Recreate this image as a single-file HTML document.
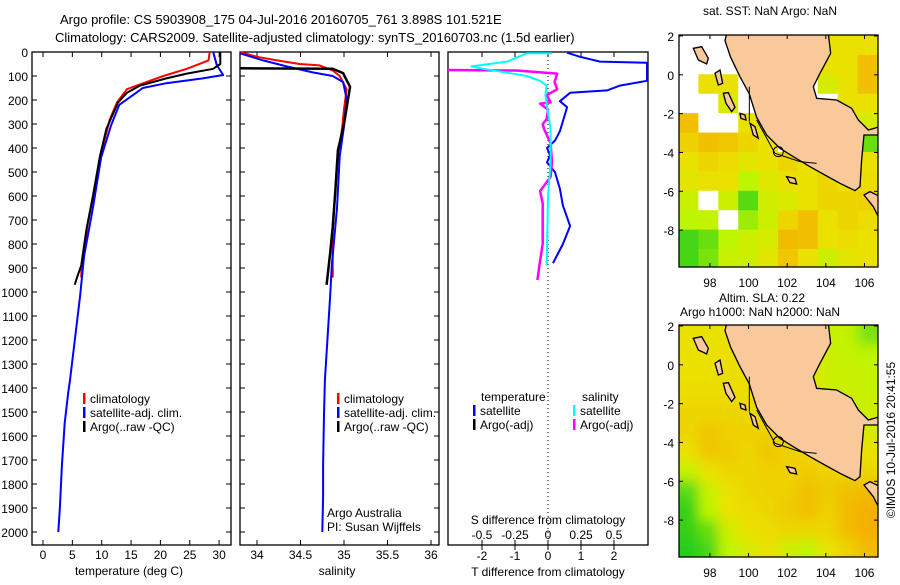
<!DOCTYPE html>
<html><head><meta charset="utf-8"><style>
body{margin:0;background:#fff;}
svg text{font-family:"Liberation Sans",sans-serif;font-size:12px;fill:#000;}
</style></head><body>
<svg id="fig" width="900" height="580" xmlns="http://www.w3.org/2000/svg">
<rect width="900" height="580" fill="#fff"/>
<text x="60" y="24" style="font-size:13px">Argo profile: CS 5903908_175 04-Jul-2016 20160705_761 3.898S 101.521E</text>
<text x="55" y="42" style="font-size:13px">Climatology: CARS2009. Satellite-adjusted climatology: synTS_20160703.nc (1.5d earlier)</text>
<g id="p1"></g>
<g id="p2"></g>
<g id="p3"></g>
<g id="m1"></g>
<g id="m2"></g>
<text x="770" y="15" text-anchor="middle">sat. SST: NaN Argo: NaN</text>
<text x="762" y="302" text-anchor="middle">Altim. SLA: 0.22</text>
<text x="760" y="316" text-anchor="middle">Argo h1000: NaN h2000: NaN</text>
<text transform="translate(895,440) rotate(-90)" text-anchor="middle">©IMOS 10-Jul-2016 20:41:55</text>
</svg>
<script>
// ---- data ----
const depthTicks=[0,100,200,300,400,500,600,700,800,900,1000,1100,1200,1300,1400,1500,1600,1700,1800,1900,2000];
const tempTicks=[0,5,10,15,20,25,30];
const salTicks=[34,34.5,35,35.5,36];
const tdiffTicks=[-2,-1,0,1,2];
const sdiffTicks=[-0.5,-0.25,0,0.25,0.5];
const sdiffLabels=['-0.5','-0.25','0','0.25','0.5'];
const tClimD=[0,35,70,100,135,155,210,280,390,530,720,890,940];
const tClimV=[28.4,28.2,24.5,20.5,16.5,14.3,12.6,11.4,10.2,9.1,7.6,6.6,6.5];
const tSatD=[0,55,96,110,130,150,180,220,305,440,650,850,1020,1367,1420,1546,1730,1890,2000];
const tSatV=[29,29.6,30.7,27.2,21,17,15.3,13,11.6,9.9,8.5,7.0,6.3,4.6,4.3,3.7,3.2,2.9,2.6];
const tArgoD=[0,50,70,90,110,140,170,210,320,435,600,740,890,940,970];
const tArgoV=[30.2,30.2,29,24.5,21,16.5,14.3,12.8,10.8,9.7,8.5,7.4,6.5,5.8,5.4];
const sClimD=[0,20,35,50,56,77,100,155,240,310,470,750,940];
const sClimV=[33.8,34.0,34.23,34.49,34.72,34.87,34.95,35.03,35.0,34.98,34.92,34.87,34.87];
const sSatD=[5,35,60,85,100,125,195,310,435,650,890,1020,1367,1510,1720,1850,2000];
const sSatV=[33.8,34.07,34.34,34.64,34.87,34.99,35.03,35.0,34.95,34.92,34.86,34.84,34.78,34.77,34.76,34.76,34.75];
const sArgoD=[68,70,88,110,145,190,300,410,580,730,840,970];
const sArgoV=[33.8,34.87,34.99,35.02,35.07,35.05,35.0,34.93,34.9,34.87,34.84,34.8];
const dTSatD=[3,20,40,45,120,140,160,170,205,230,330,370,400,430,460,500,570,640,725,800,880];
const dTSatV=[0.58,0.97,1.58,3.0,3.0,2.18,1.79,0.67,0.36,0.58,0.36,0.21,-0.03,0.06,-0.03,0.21,0.36,0.45,0.67,0.45,0.15];
const dSSatD=[5,5,40,60,70,100,120,140,180,320,460,600,890];
const dSSatV=[0.03,-0.16,-0.31,-0.58,-0.49,-0.16,-0.06,-0.01,-0.02,0.02,0.02,0,-0.01];
const dSArgoD=[75,77,90,125,155,180,210,215,240,280,300,320,380,460,520,580,630,800,870,950];
const dSArgoV=[-0.76,-0.24,0.07,0.05,0.07,-0.01,0.02,-0.06,0,-0.01,-0.04,-0.03,0.02,0.03,0.02,-0.06,-0.04,-0.04,-0.06,-0.08];
const lonTicks=[98,100,102,104,106];
const latTicks=[2,0,-2,-4,-6,-8];
const sstGrid=[
[0,0,0,0,0,0,0,3,3,3],[0,0,0,0,0,0,0,3,3,3.6],[0,3,3,0,0,3,0,2.5,3,3.6],[0,0,2.6,0,3,3,0,0,3,3],
[3.6,0,0,3,3,3,0,0,3,2.5],[3.3,3.6,3.5,3.2,3,0,0,0,2.5,1.5],[3,3.2,3.1,2.8,3,3.2,3,3,3.2,3],[2.8,3,3,2,2.7,3,3,3.2,3,3.1],
[2.2,0,2.3,1.4,2.4,2.6,3,3.2,3.2,3.3],[2,2.1,0,1.8,2.3,3.2,3.6,3,3.2,3.1],[1.3,1.5,2,2.3,2.5,3.7,3.6,3,3.1,3],[1.3,1.6,2.2,2.3,2.8,3.5,3,2.3,2.8,3]];
const slaGrid=[
[3,3,3,3,3,3,2.4,2.2,2.1,1.6],[3,3,3,3,3,3,3,2.3,2.1,2],[3,3,3.1,3,3,3,3,2.3,2.2,2.1],[3.1,3.1,3.1,3.1,3,3,3,2.3,2.3,2.2],
[3.2,3.2,3.2,3.2,3.2,3.1,3,3,2.4,2.3],[3.2,3.5,3.3,3.3,3.3,3.2,3.1,3,2.6,2.5],[3,3.5,3.4,3.2,3.5,3.3,3.2,3.1,3,3],[2.2,3,3.2,3.2,3.3,3.3,3.4,3.3,3.2,3.2],
[1.4,2.2,3,3.2,3.3,3.3,3.6,3.4,3.6,3.7],[1.2,2,3,3.1,3.2,3.4,3.6,3.3,3.7,3.9],[1.2,1.5,2.4,3,3.1,3.2,3.2,3.2,3.7,3.9],[1.1,1.3,2,2.5,3,2.4,2,2.9,3.3,3.7]];

// ---- helpers ----
const NS='http://www.w3.org/2000/svg';
function mk(parent,tag,attrs,txt){const e=document.createElementNS(NS,tag);for(const k in attrs)e.setAttribute(k,attrs[k]);if(txt!==undefined)e.textContent=txt;parent.appendChild(e);return e;}
const yD=d=>52+d*0.24;
const xT=t=>43+t*5.87;
const xS=s=>257+(s-34)*87;
const xDT=t=>548+t*33;
const xDS=s=>548+s*132;
function line(g,xf,ds,vs,color,w,name){
  const pts=ds.map((d,i)=>xf(vs[i]).toFixed(1)+','+yD(d).toFixed(1)).join(' ');
  const p=mk(g,'polyline',{points:pts,fill:'none',stroke:color,'stroke-width':w,'stroke-linejoin':'round'});
  
  
}
function frame(g,x0,x1,yTicksLabels){
  const r=mk(g,'rect',{x:x0,y:52,width:x1-x0,height:493,fill:'none',stroke:'#000','stroke-width':1.3});
  
  
  depthTicks.forEach(d=>{const y=yD(d);
    mk(g,'line',{x1:x0,x2:x0+5,y1:y,y2:y,stroke:'#000'});mk(g,'line',{x1:x1-5,x2:x1,y1:y,y2:y,stroke:'#000'});
    if(yTicksLabels){const t=mk(g,'text',{x:x0-4,y:y+5,'text-anchor':'end'},d);
      
      }
  });
}
function xticks(g,vals,labels,xf,yb,ylab,top){
  vals.forEach((v,i)=>{const x=xf(v);
    mk(g,'line',{x1:x,x2:x,y1:yb-5,y2:yb,stroke:'#000'});
    if(top)mk(g,'line',{x1:x,x2:x,y1:52,y2:57,stroke:'#000'});
    const t=mk(g,'text',{x:x,y:ylab,'text-anchor':'middle'},labels[i]);
    
    
  });
}
function legend(g,x,y,color,label){
  mk(g,'rect',{x:x,y:y-10,width:2.5,height:11,fill:color});
  const t=mk(g,'text',{x:x+7,y:y},label);
  
  
}
// ---- panel 1 ----
const p1=document.getElementById('p1');
frame(p1,32,231,true);
xticks(p1,tempTicks,tempTicks,xT,545,559,true);
line(p1,xT,tClimD,tClimV,'#f00',2,'temperature-climatology-line');
line(p1,xT,tSatD,tSatV,'#00f',2,'temperature-satellite-line');
line(p1,xT,tArgoD,tArgoV,'#000',2,'temperature-argo-line');
legend(p1,83,403,'#f00','climatology');legend(p1,83,417,'#00f','satellite-adj. clim.');legend(p1,83,431,'#000','Argo(..raw -QC)');
mk(p1,'text',{x:129,y:575,'text-anchor':'middle'},'temperature (deg C)');
// ---- panel 2 ----
const p2=document.getElementById('p2');
frame(p2,240,439,false);
xticks(p2,salTicks,salTicks,xS,545,559,true);
line(p2,xS,sClimD,sClimV,'#f00',2,'salinity-climatology-line');
line(p2,xS,sSatD,sSatV,'#00f',2,'salinity-satellite-line');
line(p2,xS,sArgoD,sArgoV,'#000',2.5,'salinity-argo-line');
legend(p2,337,403,'#f00','climatology');legend(p2,337,417,'#00f','satellite-adj. clim.');legend(p2,337,431,'#000','Argo(..raw -QC)');
mk(p2,'text',{x:327,y:517},'Argo Australia');mk(p2,'text',{x:327,y:531},'PI: Susan Wijffels');
mk(p2,'text',{x:337,y:575,'text-anchor':'middle'},'salinity');
// ---- panel 3 ----
const p3=document.getElementById('p3');
mk(p3,'rect',{x:448,y:52,width:200,height:493,fill:'none',stroke:'#000','stroke-width':1.3});
mk(p3,'line',{x1:xDT(0),x2:xDT(0),y1:52,y2:545,stroke:'#000','stroke-dasharray':'1,3'});
tdiffTicks.forEach(v=>{const x=xDT(v);mk(p3,'line',{x1:x,x2:x,y1:52,y2:57,stroke:'#000'});mk(p3,'line',{x1:x,x2:x,y1:545,y2:550,stroke:'#000'});
  const t=mk(p3,'text',{x:x,y:560,'text-anchor':'middle'},v);
  
  });
sdiffTicks.forEach((v,i)=>{const x=xDS(v);mk(p3,'line',{x1:x,x2:x,y1:540,y2:545,stroke:'#000'});
  const t=mk(p3,'text',{x:x,y:539,'text-anchor':'middle'},sdiffLabels[i]);
  
  });
const cp3=mk(p3,'clipPath',{id:'c3'});mk(cp3,'rect',{x:448,y:52,width:200,height:493});
const g3=mk(p3,'g',{'clip-path':'url(#c3)'});
line(g3,xDT,dTSatD,dTSatV,'#00f',2,'tdiff-satellite-line');
line(g3,xDS,dSArgoD,dSArgoV,'#f0f',2.5,'sdiff-argo-line');
line(g3,xDS,dSSatD,dSSatV,'#0ff',2,'sdiff-satellite-line');
mk(p3,'text',{x:481,y:401},'temperature');mk(p3,'text',{x:582,y:401},'salinity');
legend(p3,473,415,'#00f','satellite');legend(p3,473,429,'#000','Argo(-adj)');
legend(p3,573,415,'#0ff','satellite');legend(p3,573,429,'#f0f','Argo(-adj)');
mk(p3,'text',{x:548,y:524,'text-anchor':'middle'},'S difference from climatology');
mk(p3,'text',{x:548,y:576,'text-anchor':'middle'},'T difference from climatology');
// ---- maps ----
const colorStops=[[1,[20,200,30]],[2,[190,245,0]],[3,[235,225,0]],[4,[245,170,0]]];
function col(v){if(!v)return '#fff';v=Math.max(1,Math.min(4,v));let i=Math.min(2,Math.floor(v-1));const a=colorStops[i],b=colorStops[i+1],f=v-a[0];
  return 'rgb('+a[1].map((c,k)=>Math.round(c+(b[1][k]-c)*f)).join(',')+')';}
const LON0=96.4,LON1=106.7,LAT0=2.05,LAT1=-9.9;
function mapPanel(id,top,grid,ox,oy,xlabY,blur){
  const g=document.getElementById(id);
  const x0=679,x1=878,y1=top+232;
  const lx=l=>x0+(l-LON0)/(LON1-LON0)*(x1-x0);
  const ly=l=>top+(LAT0-l)/(LAT0-LAT1)*(y1-top);
  const cid='mc'+id;const cp=mk(g,'clipPath',{id:cid});mk(cp,'rect',{x:x0,y:top,width:x1-x0,height:y1-top});
  const clipG=mk(g,'g',{'clip-path':'url(#'+cid+')'});
  const cells=mk(clipG,'g',{});
  if(blur){const f=mk(g,'filter',{id:'bl'+id,x:'-10%',y:'-10%',width:'120%',height:'120%'});mk(f,'feGaussianBlur',{stdDeviation:6});cells.setAttribute('filter','url(#bl'+id+')');}
  const cw=(x1-x0)/10;
  grid.forEach((row,r)=>row.forEach((v,c)=>{
    const la=2-r,lo=LON0+c*(LON1-LON0)/10;
    let x=lx(lo)-0.5,y=ly(la)-0.5,w=cw+1,h=ly(la-1)-ly(la)+1;
    if(blur){ if(c===0){x-=20;w+=20;} if(c===9){w+=20;} if(r===0){y-=20;h+=20;} if(r===grid.length-1){h+=20;} }
    const e=mk(cells,'rect',{x:x,y:y,width:w,height:h,fill:col(v)});
    
    
  }));
  const land=mk(clipG,'g',{transform:'translate('+ox+','+oy+') scale(0.3333)'});
  
  
  const st={fill:'#f9c89b',stroke:'#000','stroke-width':4};
  const P=d=>mk(land,'path',Object.assign({d:d},st));
  P('M200,40 L505,40 L512,100 L480,160 L460,200 L470,235 L530,240 L575,265 L595,300 L625,330 L660,320 L660,345 L612,345 L605,420 L600,500 L585,512 L560,500 L540,490 L500,468 L450,440 L400,410 L360,385 L320,345 L290,292 L268,222 L240,170 L212,112 L195,62 Z');
  P('M612,525 L640,560 L660,600 L660,530 L630,515 Z');
  P('M100,85 L125,80 L145,115 L140,132 L115,120 Z');
  P('M190,220 L205,218 L225,262 L215,275 L198,250 Z');
  P('M165,160 L180,150 L188,190 L175,195 Z');
  P('M240,280 L255,285 L258,300 L243,295 Z');
  P('M270,310 L285,320 L295,355 L280,345 Z');
  P('M380,470 L405,475 L410,492 L390,488 Z');
  mk(land,'path',{d:'M268,200 L268,305 M290,300 L345,400 L420,425 L470,430',fill:'none',stroke:'#000','stroke-width':3});
  mk(land,'circle',{cx:355,cy:395,r:15,fill:'none',stroke:'#000','stroke-width':3});
  mk(g,'rect',{x:x0,y:top,width:x1-x0,height:y1-top,fill:'none',stroke:'#000','stroke-width':1.3});
  lonTicks.forEach(l=>{const x=lx(l);mk(g,'line',{x1:x,x2:x,y1:y1-4,y2:y1,stroke:'#000'});mk(g,'line',{x1:x,x2:x,y1:top,y2:top+4,stroke:'#000'});
    const t=mk(g,'text',{x:x,y:xlabY,'text-anchor':'middle'},l);
    
    });
  latTicks.forEach(l=>{const y=ly(l);mk(g,'line',{x1:x0,x2:x0+4,y1:y,y2:y,stroke:'#000'});mk(g,'line',{x1:x1-4,x2:x1,y1:y,y2:y,stroke:'#000'});
    const t=mk(g,'text',{x:x0-5,y:y+5,'text-anchor':'end'},l);
    
    });
}
mapPanel('m1',35,sstGrid,660,20,287,false);
mapPanel('m2',325,slaGrid,660,310,577,true);
</script>
</body></html>
